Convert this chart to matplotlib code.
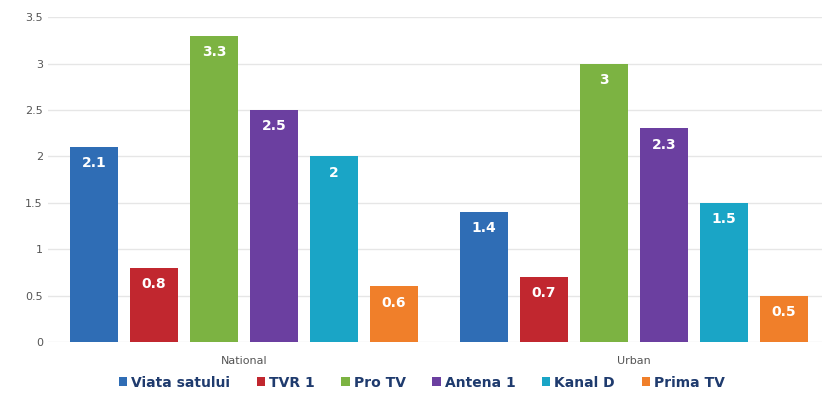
import matplotlib.pyplot as plt
import numpy as np

CATEGORIES = ["National", "Urban"]
CHANNELS = ["Viata satului", "TVR 1", "Pro TV", "Antena 1", "Kanal D", "Prima TV"]
VIATA_SATULUI = [2.1, 1.4]
TVR_1 = [0.8, 0.7]
PRO_TV = [3.3, 3.0]
ANTENA_1 = [2.5, 2.3]
KANAL_D = [2.0, 1.5]
PRIMA_TV = [0.6, 0.5]
Y_TICKS = [0, 0.5, 1, 1.5, 2, 2.5, 3, 3.5]

COLORS = ["#2F6DB5", "#C1272F", "#7CB342", "#6B3FA0", "#1AA5C6", "#F07F2A"]

series = [VIATA_SATULUI, TVR_1, PRO_TV, ANTENA_1, KANAL_D, PRIMA_TV]

fig = plt.figure(figsize=(8.24, 4.08), dpi=100)
ax = fig.add_axes([0.058, 0.162, 0.94, 0.796])

x = np.arange(len(CATEGORIES))
step = 0.154
width = 0.123
for i, (name, values, color) in enumerate(zip(CHANNELS, series, COLORS)):
    offset = (i - 2.5) * step
    bars = ax.bar(x + offset, values, width=width, color=color, label=name, zorder=3)
    for bar, value in zip(bars, values):
        ax.text(
            bar.get_x() + bar.get_width() / 2,
            value - 0.1,
            f"{value:g}",
            ha="center",
            va="top",
            color="white",
            fontsize=10,
            fontweight="bold",
            zorder=4,
        )

ax.set_xlim(-0.503, 1.483)
ax.set_ylim(0, 3.5)
ax.set_yticks(Y_TICKS)
ax.set_yticklabels([f"{t:g}" for t in Y_TICKS])
ax.set_xticks(x)
ax.set_xticklabels(CATEGORIES)
ax.tick_params(axis="both", length=0, labelsize=8, colors="#555555")
ax.tick_params(axis="x", pad=10)
ax.grid(axis="y", color="#e6e6e6", linewidth=1, zorder=0)
for spine in ax.spines.values():
    spine.set_visible(False)

ax.legend(
    loc="upper center",
    bbox_to_anchor=(0.483, -0.065),
    ncol=6,
    frameon=False,
    handlelength=0.6,
    handleheight=0.6,
    handletextpad=0.3,
    columnspacing=1.9,
    prop={"weight": "bold", "size": 10},
    labelcolor="#1F3B6E",
)

fig.savefig("out.png")
